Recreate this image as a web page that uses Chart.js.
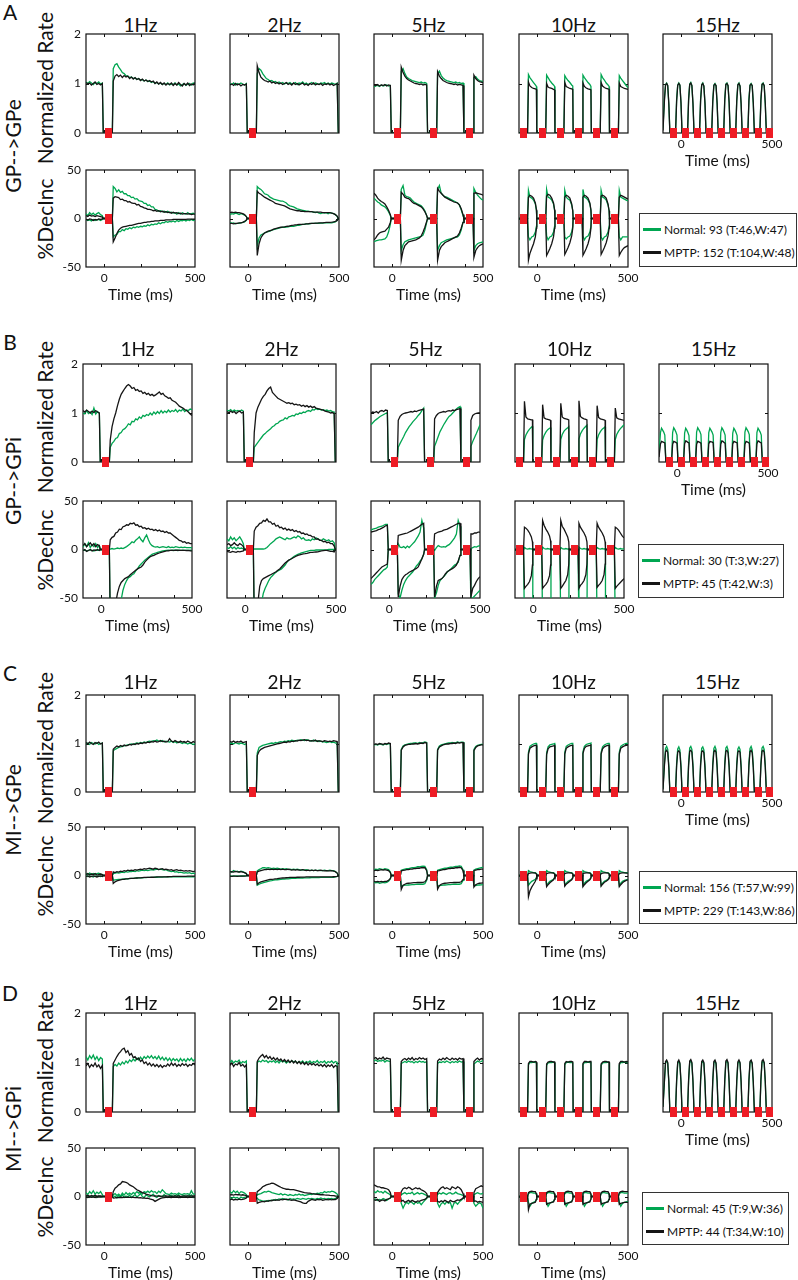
<!DOCTYPE html>
<html>
<head>
<meta charset="utf-8">
<title>Stimulation responses</title>
<script src="https://cdn.jsdelivr.net/npm/chart.js@4.4.1/dist/chart.umd.min.js"></script>
<style>
  html, body { margin: 0; padding: 0; background: #fff; }
  body { position: relative; width: 798px; height: 1280px; overflow: hidden;
         font-family: Lato, "Liberation Sans", Arial, sans-serif; color: #111; }
  canvas { position: absolute; }
  .txt { position: absolute; white-space: nowrap; line-height: 1; transform: translate(-50%, -50%); }
  .txt.vert { transform: translate(-50%, -50%) rotate(-90deg); }
  .legend { position: absolute; box-sizing: border-box; border: 1px solid #333; background: #fff; }
  .legend div { position: absolute; left: 3px; white-space: nowrap; font-size: 12px; line-height: 1; transform: translateY(-50%); }
  .legend span { display: inline-block; width: 18px; height: 3px; vertical-align: middle; margin-right: 3px; position: relative; top: -1px; }
</style>
</head>
<body>
<script>
// ── Time grids (ms) and stimulus times ──────────────────────────────────────
const T1 = [-100,-90,-80,-70,-60,-50,-40,-30,-20,-10,-5,45,
  50,60,70,80,90,100,110,120,130,140,
  150,160,170,180,190,200,210,220,230,240,
  250,260,270,280,290,300,310,320,330,340,
  350,360,370,380,390,400,410,420,430,440,
  450,460,470,480,490,500];
const T2 = [-100,-90,-80,-70,-60,-50,-40,-30,-20,-10,-5,45,
  50,60,70,80,90,100,110,120,130,140,
  150,160,170,180,190,200,210,220,230,240,
  250,260,270,280,290,300,310,320,330,340,
  350,360,370,380,390,400,410,420,430,440,
  450,460,470,480,490,496,500];
const T5 = [-100,-90,-80,-70,-60,-50,-40,-30,-20,-10,-5,45,
  50,60,70,80,90,100,110,120,130,140,150,160,170,180,190,195,245,
  250,260,270,280,290,300,310,320,330,340,350,360,370,380,390,395,445,
  450,460,470,480,490,500];
const T10 = [-100,
  -53,-48,-40,-30,-20,-10,-4,-2,
  47,52,60,70,80,90,96,98,
  147,152,160,170,180,190,196,198,
  247,252,260,270,280,290,296,298,
  347,352,360,370,380,390,396,398,
  447,452,460,470,480,490,500];
const T15 = [-100,-92,-86,-80,-74,-68,-62,
  -31,-25,-19,-13,-7,-1,5,
  35,41,47,53,59,65,71,
  101,107,113,119,125,131,137,
  168,174,180,186,192,198,204,
  234,240,246,252,258,264,270,
  300,306,312,318,324,330,336,
  367,373,379,385,391,397,403,
  433,439,445,451,457,463,469,
  500];

const S1 = [26];
const S5 = [27, 227, 427];
const S10 = [-73, 27, 127, 227, 327, 427];
const S15 = [-41, 24, 91, 157, 224, 290, 356, 423, 488];

const FREQS = ['1Hz', '2Hz', '5Hz', '10Hz', '15Hz'];
const X_LABEL_TICKS = [0, 500];
const X_INNER_TICKS = [0, 200, 400];
const RATE_TICKS = [0, 1, 2];
const DEC_TICKS = [-50, 0, 50];

// ── A: GP-->GPe ─────────────────────────────────────────────────────────────
const A_rate1_k = [1.02,0.99,1.01,0.97,1.00,1.03,0.98,1.00,0.97,1.00, 0,0,
  1.05,1.15,1.18,1.14,1.17,1.12,1.16,1.13,1.15,1.10,
  1.13,1.09,1.12,1.08,1.10,1.06,1.09,1.05,1.07,1.04,
  1.06,1.03,1.05,1.00,1.03,0.99,1.02,0.98,1.01,0.97,
  1.00,0.98,1.01,0.96,1.00,0.97,1.02,0.98,0.95,1.00,
  0.97,1.01,0.96,0.99,0.97,1.02];
const A_rate1_g = [1.03,1.00,1.04,1.01,0.98,1.02,1.00,1.03,0.99,1.01, 0,0,
  1.30,1.38,1.40,1.33,1.28,1.22,1.20,1.16,1.15,1.12,
  1.13,1.10,1.11,1.08,1.10,1.07,1.08,1.05,1.07,1.04,
  1.05,1.02,1.04,1.00,1.02,0.99,1.01,0.98,1.00,0.98,
  1.01,0.97,0.99,0.98,1.01,0.97,0.99,0.95,0.98,1.00,
  0.96,0.99,1.00,0.97,1.01,1.00];
const A_rate2_k = [0.97,0.99,0.96,1.00,0.97,0.99,0.95,0.98,0.97,0.99, 0,0,
  1.36,1.22,1.13,1.09,1.06,1.05,1.03,1.05,1.01,1.03,
  1.00,1.02,0.99,1.01,0.98,1.00,1.02,0.98,1.00,0.97,
  1.01,0.98,1.00,0.97,0.99,1.01,0.97,0.99,0.96,1.00,
  0.98,1.01,0.97,0.99,0.98,1.00,0.96,0.99,0.98,1.00,
  0.97,0.99,0.96,0.98,1.00, 0,0];
const A_rate2_g = [1.00,0.98,1.01,0.97,1.00,0.98,1.01,0.99,0.97,1.00, 0,0,
  1.20,1.30,1.27,1.20,1.15,1.10,1.08,1.05,1.06,1.03,
  1.04,1.01,1.03,1.00,1.02,0.99,1.01,1.00,1.02,0.99,
  1.00,1.02,0.98,1.01,1.00,1.03,0.99,1.01,0.98,1.00,
  1.02,0.99,1.01,1.00,0.98,1.01,1.00,1.02,0.99,1.01,
  0.99,1.01,1.00,0.98,1.01, 0,0];
const A_rate5_k = [0.97,0.96,0.98,0.95,0.97,0.96,0.98,0.95,0.97,0.96, 0,0,
  1.33,1.22,1.15,1.10,1.07,1.05,1.03,1.01,1.00,0.99,0.98,0.99,0.97,0.98,0.97, 0,0,
  1.24,1.15,1.10,1.06,1.04,1.02,1.01,1.00,0.99,0.98,0.99,0.97,0.98,0.97,0.96, 0,0,
  1.17,1.10,1.06,1.04,1.03,1.02];
const A_rate5_g = [0.93,0.95,0.96,0.94,0.97,0.95,0.96,0.97,0.95,0.96, 0,0,
  1.25,1.30,1.20,1.13,1.10,1.08,1.06,1.05,1.04,1.03,1.02,1.03,1.01,1.02,1.00, 0,0,
  1.20,1.25,1.16,1.11,1.08,1.06,1.05,1.04,1.03,1.02,1.03,1.01,1.02,1.00,1.01, 0,0,
  1.12,1.14,1.09,1.06,1.05,1.04];
const A_rate10_k = [0,
  0,1.03,0.95,0.92,0.90,0.89,0.88,0,
  0,1.00,0.93,0.91,0.90,0.88,0.87,0,
  0,1.02,0.94,0.92,0.90,0.89,0.88,0,
  0,1.01,0.94,0.91,0.89,0.88,0.87,0,
  0,1.02,0.95,0.92,0.90,0.89,0.88,0,
  0,1.01,0.94,0.92,0.90,0.89,0.88];
const A_rate10_g = [0,
  0,1.18,1.12,1.07,1.02,0.97,0.94,0,
  0,1.17,1.12,1.06,1.01,0.97,0.94,0,
  0,1.16,1.11,1.06,1.02,0.97,0.95,0,
  0,1.17,1.12,1.07,1.02,0.98,0.94,0,
  0,1.18,1.12,1.07,1.01,0.97,0.94,0,
  0,1.16,1.11,1.06,1.01,0.96,0.92];
const A_rate15_k = [0.05,0.66,0.97,1.00,0.96,0.60,0,
  0,0.64,0.96,1.00,0.97,0.62,0,
  0,0.66,0.98,1.01,0.96,0.60,0,
  0,0.65,0.97,1.00,0.95,0.61,0,
  0,0.63,0.96,0.99,0.96,0.60,0,
  0,0.66,0.98,1.00,0.96,0.62,0,
  0,0.64,0.97,1.00,0.95,0.60,0,
  0,0.65,0.96,0.99,0.96,0.61,0,
  0,0.66,0.98,1.00,0.96,0.60,0,
  0];
const A_rate15_g = [0.10,0.72,0.98,1.01,0.95,0.58,0,
  0,0.68,0.97,1.01,0.96,0.60,0,
  0,0.70,0.99,1.02,0.95,0.58,0,
  0,0.69,0.98,1.01,0.94,0.59,0,
  0,0.67,0.97,1.00,0.95,0.58,0,
  0,0.70,0.99,1.01,0.95,0.60,0,
  0,0.68,0.98,1.01,0.94,0.58,0,
  0,0.69,0.97,1.00,0.95,0.59,0,
  0,0.70,0.99,1.01,0.95,0.58,0,
  0];

const A_dec1_ku = [3,2,3.5,2.5,3,2,3,2.5,2,1.5, 0,0,
  21,22.5,22,21.5,19.5,20,18.5,18.5,17,17.5,
  16,15.5,15.5,14,14.5,12.5,12,11,10.5,9.5,
  9.5,9,8,8.5,7.5,8,7,7.5,6.5,7,
  6,6.5,5.5,6.5,5.5,6,5,5.5,4.5,5,
  5,4.5,5,4,4.5,4.5];
const A_dec1_kl = [-1,-1.5,-0.5,-1,-2,-1,-1.5,-0.5,-1,-0.5, 0,0,
  -24,-20,-15.5,-12,-10,-9,-8.5,-8,-7.5,-7,
  -7,-6.5,-6,-5.5,-5,-5,-4.5,-4,-4,-3.5,
  -3.5,-3,-3,-2.5,-2.5,-2.5,-2,-2,-2,-1.5,
  -1.5,-1.5,-1.5,-1,-1,-1,-1,-1,-0.8,-0.8,
  -0.8,-0.7,-0.7,-0.7,-0.7,-0.7];
const A_dec1_gu = [5,3,6,4,5.5,3.5,5,6,4,3, 0,0,
  33,31,27.5,29.5,27,28,25.5,25.5,23.5,23.5,
  21.5,22,20,20.5,18.5,18,17.5,15.5,15.5,13.5,
  14,12,12,9.5,9,7.5,8,7,7.5,6.5,
  7.5,6,6.5,5.5,6,4.5,6,4.5,6,5,
  4.5,6,4.5,5,5.5,4.5];
const A_dec1_gl = [-1,-2,-1.5,-2.5,-1,-2,-1.5,-1,-2,-1, 0,0,
  -19,-17,-16.5,-13.5,-13.5,-11.5,-12.5,-10.5,-11,-9.5,
  -10.5,-9,-9.5,-8.5,-9,-8,-8.5,-7.5,-8,-6.5,
  -7.5,-6,-6.5,-5.5,-6,-4.5,-5.5,-4,-4.5,-3,
  -4,-3,-3.5,-2.5,-3.5,-2,-3,-2,-2.5,-1.5,
  -2.5,-1.5,-2,-1,-2,-1.5];
const A_dec2_ku = [6,6.5,6,6.5,6,6,5.5,5,4,2, 0,0,
  28,26,25,23.5,22,21,20,19,18,17,
  15.5,15,14.5,14,13.5,13,12,11,10,9.5,
  9,8.5,8,8,7.5,7.5,7,7,7,7,
  7,6.5,6.5,6.5,6.5,6.5,6,6,6,6,
  6,5.5,5,4,2.5, 0,0];
const A_dec2_kl = [-5,-5,-5.5,-5,-5,-4.5,-4.5,-4,-3,-1.5, 0,0,
  -38,-26,-20,-17,-15,-14,-13,-12.5,-12,-11,
  -10.5,-10,-9.5,-9,-8.8,-8.6,-8.2,-8,-7.5,-7,
  -6.8,-6.5,-6.3,-6,-6,-6,-5.8,-5.5,-5.5,-5,
  -5,-5,-4.8,-4.8,-4.5,-4.5,-4.5,-4.2,-4,-4,
  -4,-3.8,-3.5,-3,-2, 0,0];
const A_dec2_gu = [4,5,4.5,5.5,5,4,5,4.5,3.5,2, 0,0,
  33,31,30,28,25.5,25,24,22,21,20,
  19.5,19,18.5,18,18,17,16,14,13,12.5,
  12,11,10,9.5,9,8.5,8,7.5,7.5,7,
  7,6.5,6,6.5,5.5,5,6,5.5,6,5,
  6,5.5,5,4,2, 0,0];
const A_dec2_gl = [-4,-5,-4.5,-5.5,-5,-5,-4.5,-4,-3.5,-2, 0,0,
  -28,-20,-17,-16,-15,-14,-13.5,-13,-12,-11.5,
  -11,-10.5,-10,-9.5,-9,-9,-8.8,-8.5,-8.2,-8,
  -8,-7.5,-7,-7,-6.5,-6,-6,-5.5,-5.5,-5.5,
  -5,-5,-5,-5,-5,-4.8,-4.8,-4.6,-4.5,-4.5,
  -4.5,-4.5,-4,-3.5,-2, 0,0];
const A_dec5_ku = [26,24,21,19,17.5,16.5,15,12,8.6,4, 0,0,
  27,25,22,21,20.5,19,17,15.5,15,14,13,12,10,7,3, 0,0,
  31,28,26,24,22,21,20,19,18,17,16.5,16,14,10,4, 0,0,
  26,26.5,26,25.5,25,24];
const A_dec5_kl = [-22,-20,-17,-15,-14,-13.5,-13,-11,-9,-4, 0,0,
  -43,-33,-28,-26,-24,-23.5,-23,-22.5,-22,-21,-20,-18,-14,-9,-3, 0,0,
  -43,-33,-29,-27,-25,-24,-23,-22,-21,-20,-19,-18,-15,-10,-4, 0,0,
  -40,-33,-30,-28,-27,-26];
const A_dec5_gu = [21,19,17,16,14,13,12,10,7,3, 0,0,
  30,34,24,22.5,22,21,19,17,16,15,14,13,11,8,3, 0,0,
  30,34,26,24,22.5,22,21,20,19,18,17,16,14,9,3, 0,0,
  31,27,24,22,20,19];
const A_dec5_gl = [-24,-23,-22.5,-22,-22,-21.5,-21,-19,-14,-6, 0,0,
  -33,-27,-24,-23,-22,-21.5,-21,-20.5,-20,-19.5,-19,-18.5,-17,-12,-4, 0,0,
  -33,-28,-25,-24,-23,-22,-21.5,-21,-20.5,-20,-19.5,-19,-17,-12,-4, 0,0,
  -33,-28,-26,-25,-24.5,-24];
const A_dec10_ku = [0,
  0,22,24,23,21,16,9,0,
  0,23,25,24,21,16,9,0,
  0,22,24,23,21,15,8,0,
  0,22,24,23,21,16,9,0,
  0,23,24,23,21,15,8,0,
  0,22,24,23,22,21,20];
const A_dec10_kl = [0,
  0,-43,-36,-31,-26,-19,-10,0,
  0,-38,-35,-31,-26,-19,-10,0,
  0,-37,-34,-30,-25,-18,-10,0,
  0,-38,-35,-31,-26,-19,-10,0,
  0,-37,-34,-30,-25,-18,-10,0,
  0,-38,-35,-32,-30,-29,-28];
const A_dec10_gu = [0,
  0,29,22,21,19,15,8,0,
  0,30,22,21,19,15,8,0,
  0,29,22,20,19,14,8,0,
  0,30,22,21,19,15,8,0,
  0,29,22,21,19,14,8,0,
  0,29,22,21,20,19,18];
const A_dec10_gl = [0,
  0,-19,-22,-19,-18,-14,-8,0,
  0,-18,-22,-19,-18,-14,-8,0,
  0,-19,-21,-19,-18,-14,-8,0,
  0,-18,-22,-19,-18,-14,-8,0,
  0,-19,-22,-19,-18,-14,-8,0,
  0,-19,-22,-19,-19,-19,-19];

// ── B: GP-->GPi ─────────────────────────────────────────────────────────────
const B_rate1_k = [1.05,1.02,1.06,1.03,1.00,1.04,1.01,1.05,1.02,1.00, 0,0,
  0.45,0.72,0.88,1.00,1.15,1.28,1.38,1.44,1.50,1.55,
  1.58,1.55,1.50,1.52,1.46,1.48,1.44,1.45,1.40,1.42,
  1.38,1.40,1.36,1.38,1.35,1.37,1.40,1.43,1.38,1.40,
  1.35,1.33,1.30,1.31,1.26,1.24,1.22,1.18,1.14,1.12,
  1.10,1.07,1.05,1.02,0.98,0.95];
const B_rate1_g = [1.00,0.98,1.05,0.99,1.02,0.97,1.10,0.98,1.03,0.99, 0,0,
  0.30,0.38,0.42,0.48,0.50,0.58,0.60,0.66,0.68,0.72,
  0.78,0.76,0.83,0.82,0.88,0.86,0.92,0.89,0.95,0.93,
  0.97,0.95,1.00,0.96,1.02,0.98,1.03,0.99,1.05,1.00,
  1.04,1.01,1.06,1.02,1.05,1.03,1.07,1.02,1.06,1.04,
  1.08,1.03,1.06,1.05,1.08,1.07];
const B_rate2_k = [1.03,1.00,1.04,1.01,1.03,0.99,1.02,1.04,1.00,1.02, 0,0,
  0.60,1.00,1.12,1.20,1.28,1.34,1.38,1.45,1.50,1.53,
  1.42,1.38,1.34,1.30,1.28,1.26,1.24,1.22,1.20,1.21,
  1.19,1.20,1.17,1.18,1.16,1.17,1.14,1.16,1.13,1.15,
  1.12,1.14,1.11,1.13,1.10,1.09,1.08,1.07,1.06,1.04,
  1.03,1.02,1.00,1.01,0.99, 0,0];
const B_rate2_g = [1.06,1.04,1.07,1.03,1.06,1.04,1.05,1.03,1.06,1.04, 0,0,
  0.30,0.35,0.40,0.45,0.50,0.55,0.58,0.62,0.65,0.68,
  0.72,0.74,0.78,0.79,0.83,0.85,0.86,0.90,0.88,0.92,
  0.93,0.95,0.94,0.98,0.97,1.00,0.99,1.02,1.01,1.04,
  1.05,1.03,1.07,1.06,1.09,1.07,1.08,1.06,1.07,1.05,
  1.06,1.04,1.05,1.03,1.02, 0,0];
const B_rate5_k = [1.00,1.02,1.01,1.03,1.00,1.04,1.05,1.03,1.06,1.05, 0,0,
  0.85,0.93,0.97,0.99,1.00,1.01,1.02,1.03,1.02,1.04,1.03,1.05,1.06,1.07,1.08, 0,0,
  0.88,0.95,0.99,1.01,1.02,1.03,1.02,1.04,1.05,1.04,1.06,1.05,1.07,1.08,1.09, 0,0,
  0.85,0.95,0.98,0.99,1.00,1.00];
const B_rate5_g = [0.76,0.80,0.84,0.87,0.90,0.93,0.95,0.97,0.99,1.01, 0,0,
  0.30,0.38,0.45,0.52,0.60,0.66,0.72,0.77,0.82,0.86,0.90,0.95,0.99,1.05,1.10, 0,0,
  0.32,0.42,0.52,0.62,0.69,0.76,0.82,0.88,0.93,0.96,1.00,1.04,1.08,1.11,1.13, 0,0,
  0.32,0.42,0.50,0.58,0.67,0.76];
const B_rate10_k = [0,
  0,1.24,0.92,0.88,0.87,0.86,0.86,0,
  0,1.17,0.90,0.88,0.87,0.86,0.85,0,
  0,1.20,0.92,0.89,0.88,0.87,0.86,0,
  0,1.25,0.93,0.90,0.88,0.87,0.86,0,
  0,1.15,0.91,0.88,0.87,0.86,0.85,0,
  0,1.10,0.90,0.88,0.87,0.86,0.85];
const B_rate10_g = [0,
  0,0.46,0.55,0.62,0.67,0.71,0.73,0,
  0,0.45,0.54,0.61,0.66,0.69,0.70,0,
  0,0.46,0.56,0.63,0.67,0.70,0.72,0,
  0,0.47,0.57,0.64,0.69,0.73,0.75,0,
  0,0.46,0.55,0.62,0.67,0.70,0.72,0,
  0,0.46,0.56,0.63,0.68,0.72,0.76];
const B_rate15_k = [0.10,0.37,0.42,0.41,0.40,0.39,0,
  0,0.36,0.42,0.41,0.40,0.38,0,
  0,0.37,0.43,0.42,0.40,0.39,0,
  0,0.36,0.42,0.41,0.40,0.38,0,
  0,0.37,0.42,0.41,0.41,0.39,0,
  0,0.36,0.43,0.42,0.40,0.38,0,
  0,0.37,0.42,0.41,0.40,0.39,0,
  0,0.36,0.42,0.41,0.40,0.38,0,
  0,0.37,0.43,0.42,0.40,0.39,0,
  0];
const B_rate15_g = [0.15,0.60,0.69,0.65,0.61,0.55,0,
  0,0.60,0.70,0.66,0.61,0.55,0,
  0,0.59,0.69,0.65,0.60,0.54,0,
  0,0.61,0.70,0.66,0.62,0.56,0,
  0,0.60,0.69,0.65,0.61,0.55,0,
  0,0.60,0.70,0.66,0.61,0.55,0,
  0,0.59,0.69,0.65,0.60,0.54,0,
  0,0.61,0.70,0.66,0.62,0.56,0,
  0,0.60,0.69,0.65,0.61,0.55,0,
  0];

const B_dec1_ku = [4,6,3,5,7,4,6,3,5,4, 0,0,
  10,12.5,13.5,17,18,21,20.5,23.5,24,25.5,
  25,27,26.5,27.5,25,25.5,23.5,24,22,22.5,
  21,22,20.5,21,19.5,20.5,19,20,18.5,19,
  17.5,18.5,17,17,15.5,14,12.5,11,9.5,9,
  7.5,8,6.5,7,6,6];
const B_dec1_kl = [-1,0,-2,-1,0,-1.5,-0.5,-1,0,-1, 0,0,
  -70,-70,-70,-55,-45,-38,-34,-32,-30,-29,
  -28,-26,-24.5,-23,-21.5,-20,-19,-18,-16,-13,
  -11,-9,-7.5,-6.5,-6,-5,-4.3,-3.6,-3,-2.5,
  -2,-1.5,-1.5,-1,-1,-1,-1,-0.8,-1,-1,
  -1,-1,-1.2,-1,-1.5,-1.5];
const B_dec1_gu = [2.5,6,3,7,2,5,3,6,2,4, 0,0,
  0.5,1,0.5,1,1.5,1,1.5,1,2,3,
  4.5,6,8,7,9.5,11,13,10,8,12,
  15,10,6,4,3,2.5,3,2,2.5,3,
  2.5,2,3,2,2.5,2,3,2.5,2,2.5,
  2,2.5,2,2,2,2];
const B_dec1_gl = [-1,-0.5,-1.5,-1,-0.5,-1,-1.5,-0.5,-1,-1, 0,0,
  -80,-80,-80,-80,-80,-65,-52,-42,-36,-32,
  -29,-28,-26,-25,-22,-20,-17,-15,-13,-11,
  -9.5,-8,-6.5,-5,-4.3,-3.6,-3,-2.5,-2,-1.5,
  -1.2,-1,-0.8,-1,-0.8,-1,-0.5,-1,-0.8,-1,
  -0.8,-1,-0.8,-1,-0.8,-1];
const B_dec2_ku = [5,6,4,5,7,5,4,6,5,3, 0,0,
  19,23,24.5,27,27.5,30,29,31.5,28.5,28.5,
  26,27,24,25,22.5,23,21,22,20,21,
  19.5,20.5,18.5,19.5,18,18.5,16.5,17,15.5,16,
  14.5,14.5,13,13,10.5,11,9.5,9.5,8,8.5,
  7,7.5,6,6,3.5, 0,0];
const B_dec2_kl = [-2,-2.5,-3,-2,-2.5,-3,-2,-2.5,-2,-1.5, 0,0,
  -70,-70,-55,-38,-32,-30,-29,-28,-27,-26,
  -25,-24,-23,-21.5,-20,-18,-16,-14,-12.5,-11,
  -10,-9,-8,-7,-6,-5.5,-5,-4.5,-4.3,-4,
  -3.5,-3,-3,-2.8,-2.6,-2.5,-2,-1.5,-1.2,-1,
  -1,-1.5,-2,-2,-2.5, 0,0];
const B_dec2_gu = [11,9,13,10,12,9,11,13,10,6, 0,0,
  0.5,0.5,0.5,0.5,0.5,0.5,1,2,4,6,
  7.5,9,11,12,13,12,11,10,12,11,
  11,12,13,12,14,13,11,12,10,9.5,
  10,9,11,10,12,11,10,9,11,10,
  9,10,8,9,7, 0,0];
const B_dec2_gl = [2,1,3,1,2.5,0.5,2,1,1.5,0.5, 0,0,
  -80,-80,-80,-70,-55,-45,-40,-36,-32,-29,
  -27,-25,-23.5,-22,-21,-20,-18,-16,-13,-11,
  -10,-8.5,-7,-6,-5,-4.3,-3.5,-3,-2.5,-2,
  -1.5,-1,-1,-0.8,-0.5,-0.5,-0.5,-0.3,-0.3,-0.3,
  -0.3,0,0,0,0, 0,0];
const B_dec5_ku = [18,18.5,19,19.5,20.5,21,22,23,24.5,25, 0,0,
  14.5,15,15.5,16,16.5,17,18,19,20,21,22,23,24.5,26,27, 0,0,
  16,17,18,18.5,19,20,20.5,21,22,23,24,25,26,27,27, 0,0,
  16,16,17,17,18,18];
const B_dec5_kl = [-30,-28,-26,-24,-22,-20,-18,-17,-16,-15, 0,0,
  -49,-38,-31,-28,-26,-25,-23.5,-22.5,-21.6,-20.5,-19.5,-18,-14,-9.6,-5, 0,0,
  -49,-38,-32,-31,-30,-28,-25,-23,-21.6,-20.5,-19.5,-18,-16,-12,-6, 0,0,
  -49,-40,-37,-33,-30,-28];
const B_dec5_gu = [20,21,21.5,22,23,23.5,24,25,26,26, 0,0,
  6,2.5,2,3,1.5,3.5,2,4,6,8,11,14,18,30,22, 0,0,
  -1,2,4,3,2.5,3,2.5,4,5,7,9.5,12,16,30,24, 0,0,
  1,2,3,2.5,3.5,4];
const B_dec5_gl = [-36,-34,-31,-29,-27,-25,-23,-21,-20,-18, 0,0,
  -46,-50,-42,-36,-32,-29,-27,-25,-23,-20,-17,-15,-12,-9.6,-5, 0,0,
  -50,-45,-37,-32,-30,-28,-26,-23,-21.6,-20,-18,-16,-15,-13,-6, 0,0,
  -60,-50,-48,-46,-44,-42];
const B_dec10_ku = [0,
  0,23,22,20,17,13,8,0,
  0,30,25,21,18,14,9,0,
  0,30,24,21,17,13,8,0,
  0,27,23,20,17,13,8,0,
  0,27,23,20,17,13,8,0,
  0,23,22,20,17,14,12];
const B_dec10_kl = [0,
  0,-40,-38,-36,-33,-27,-16,0,
  0,-40,-38,-36,-33,-27,-16,0,
  0,-40,-38,-35,-32,-26,-15,0,
  0,-40,-37,-35,-32,-26,-15,0,
  0,-39,-37,-35,-32,-26,-15,0,
  0,-40,-38,-36,-34,-32,-30];
const B_dec10_gu = [0,
  0,2,1,0.5,1,0.5,1,0,
  0,2.5,1,0.5,1,0.5,1,0,
  0,2,1,0.5,1,0.5,1,0,
  0,2.5,1,0.5,1,0.5,1,0,
  0,2,1,0.5,1,0.5,1,0,
  0,2,1,0.5,1,0.5,1];
const B_dec10_gl = [0,
  0,-80,-80,-80,-80,-80,-80,0,
  0,-80,-80,-80,-80,-80,-80,0,
  0,-80,-80,-80,-80,-80,-80,0,
  0,-80,-80,-80,-80,-80,-80,0,
  0,-80,-80,-80,-80,-80,-80,0,
  0,-80,-80,-80,-80,-80,-80];

// ── C: MI-->GPe ─────────────────────────────────────────────────────────────
const C_rate1_k = [1.02,0.99,1.03,1.00,0.98,1.02,1.00,1.03,0.99,1.01, 0,0,
  0.88,0.92,0.95,0.93,0.96,0.94,0.97,0.95,0.96,0.98,
  0.97,0.99,0.98,1.00,0.99,1.01,1.00,1.02,1.01,1.03,
  1.02,1.04,1.03,1.05,1.03,1.04,1.06,1.04,1.05,1.03,
  1.04,1.10,1.05,1.03,1.06,1.04,1.02,1.05,1.03,1.04,
  1.02,1.05,1.03,1.01,1.04,1.02];
const C_rate1_g = [0.99,1.01,0.98,1.02,1.00,0.99,1.02,0.98,1.00,1.01, 0,0,
  0.85,0.88,0.90,0.92,0.93,0.94,0.95,0.96,0.97,0.98,
  0.99,0.98,1.00,1.01,1.00,1.02,1.01,1.03,1.02,1.04,
  1.05,1.04,1.06,1.05,1.07,1.05,1.04,1.06,1.03,1.05,
  1.04,1.03,1.05,1.02,1.04,1.01,1.03,1.02,1.00,1.02,
  1.01,0.99,1.01,1.00,0.98,1.00];
const C_rate2_k = [1.04,1.03,1.05,1.02,1.04,1.03,1.05,1.02,1.03,1.04, 0,0,
  0.75,0.84,0.88,0.90,0.92,0.93,0.94,0.95,0.96,0.97,
  0.98,0.99,1.00,1.01,1.02,1.03,1.02,1.04,1.03,1.05,
  1.04,1.06,1.05,1.07,1.06,1.07,1.08,1.06,1.07,1.05,
  1.06,1.05,1.07,1.04,1.06,1.05,1.04,1.06,1.05,1.04,
  1.05,1.04,1.06,1.05,1.04, 0,0];
const C_rate2_g = [1.00,1.01,0.99,1.02,1.00,0.99,1.01,1.00,0.98,1.00, 0,0,
  0.80,0.92,0.94,0.96,0.97,0.98,0.99,1.00,1.01,1.00,
  1.02,1.01,1.03,1.04,1.03,1.05,1.04,1.06,1.05,1.07,
  1.06,1.05,1.07,1.06,1.08,1.07,1.06,1.08,1.07,1.06,
  1.05,1.07,1.05,1.06,1.04,1.05,1.03,1.04,1.02,1.03,
  1.04,1.02,1.03,1.01,1.02, 0,0];
const C_rate5_k = [0.98,0.99,0.98,1.00,0.99,0.98,1.00,0.99,1.01,1.00, 0,0,
  0.86,0.93,0.96,0.97,0.98,0.98,0.99,0.99,1.00,0.99,1.00,1.01,1.00,1.02,1.01, 0,0,
  0.86,0.93,0.95,0.97,0.98,0.99,0.99,1.00,1.00,1.01,1.00,1.02,1.01,1.02,1.02, 0,0,
  0.85,0.92,0.95,0.96,0.97,0.97];
const C_rate5_g = [0.97,0.98,0.97,0.99,0.98,0.97,0.99,0.98,1.00,0.99, 0,0,
  0.88,0.95,0.97,0.98,0.99,1.00,1.00,1.01,1.01,1.00,1.02,1.01,1.02,1.03,1.02, 0,0,
  0.88,0.95,0.97,0.98,0.99,1.00,1.01,1.01,1.02,1.01,1.02,1.03,1.02,1.03,1.03, 0,0,
  0.88,0.94,0.96,0.97,0.98,0.98];
const C_rate10_k = [0,
  0,0.78,0.90,0.93,0.95,0.96,0.96,0,
  0,0.77,0.89,0.93,0.94,0.95,0.96,0,
  0,0.78,0.90,0.93,0.95,0.96,0.96,0,
  0,0.79,0.90,0.94,0.95,0.96,0.97,0,
  0,0.78,0.89,0.93,0.95,0.96,0.96,0,
  0,0.78,0.90,0.93,0.95,0.96,0.97];
const C_rate10_g = [0,
  0,0.82,0.94,0.97,0.99,1.00,1.00,0,
  0,0.81,0.93,0.97,0.98,0.99,1.00,0,
  0,0.82,0.94,0.97,0.99,1.00,1.00,0,
  0,0.83,0.94,0.98,0.99,1.00,1.01,0,
  0,0.82,0.93,0.97,0.99,1.00,1.00,0,
  0,0.82,0.94,0.97,0.99,1.00,1.00];
const C_rate15_k = [0.05,0.55,0.83,0.86,0.82,0.50,0,
  0,0.54,0.82,0.85,0.81,0.50,0,
  0,0.55,0.84,0.86,0.82,0.51,0,
  0,0.55,0.83,0.85,0.81,0.50,0,
  0,0.54,0.83,0.86,0.82,0.50,0,
  0,0.55,0.84,0.86,0.81,0.51,0,
  0,0.54,0.82,0.85,0.82,0.50,0,
  0,0.55,0.83,0.86,0.81,0.50,0,
  0,0.55,0.84,0.86,0.82,0.51,0,
  0];
const C_rate15_g = [0.08,0.60,0.90,0.94,0.88,0.55,0,
  0,0.59,0.89,0.93,0.87,0.55,0,
  0,0.60,0.91,0.94,0.88,0.56,0,
  0,0.60,0.90,0.93,0.87,0.55,0,
  0,0.59,0.90,0.94,0.88,0.55,0,
  0,0.60,0.91,0.94,0.87,0.56,0,
  0,0.59,0.89,0.93,0.88,0.55,0,
  0,0.60,0.90,0.94,0.87,0.55,0,
  0,0.60,0.91,0.94,0.88,0.56,0,
  0];

const C_dec1_ku = [1,2,0.5,1.5,1,2,0.5,1,1.5,1, 0,0,
  3.8,3,4,3.5,4.5,4,5,4.5,5.5,5,
  5.5,5,6,5.5,6,6.5,6,7,6.5,7,
  7.5,7,6.5,7.5,7,6,6.5,7,6,6.5,
  6,5.5,6,5,5.5,6,5,5.5,5,4.5,
  5,4.5,5,4.5,4,4.5];
const C_dec1_kl = [-1,-0.5,-1.5,-1,-0.5,-1,-1.5,-1,-0.5,-1, 0,0,
  -8.2,-6.5,-5.5,-5,-4.5,-4,-4,-3.5,-3.5,-3,
  -3,-3,-2.8,-2.6,-2.5,-2.4,-2.2,-2,-2,-2,
  -2,-1.8,-1.8,-1.6,-1.5,-1.5,-1.5,-1.4,-1.4,-1.4,
  -1.3,-1.2,-1.2,-1,-1,-1,-1,-0.8,-0.8,-0.8,
  -0.8,-0.7,-0.7,-0.7,-0.7,-0.7];
const C_dec1_gu = [2,1,2.5,1.5,2,1,2,2.5,1.5,1, 0,0,
  2,2.5,3,2.5,3,3.5,3,4,3.5,4,
  4,4.5,4,5,4.5,5,5.5,5,5.5,5,
  5.5,6,5.5,6,6.5,6,6.5,6,5.5,6,
  5,4.5,4,4.5,3.5,4,3,3.5,3,2.5,
  3,2.5,3,2,2.5,2];
const C_dec1_gl = [-0.5,-1,-0.5,-1,-1.5,-0.5,-1,-0.5,-1,-0.5, 0,0,
  -4.8,-4.5,-4.2,-4,-4,-3.8,-3.6,-3.5,-3.4,-3.2,
  -3,-3,-2.8,-2.6,-2.5,-2.4,-2.3,-2.2,-2.1,-2,
  -2,-2,-1.9,-1.8,-1.8,-1.7,-1.6,-1.6,-1.5,-1.5,
  -1.5,-1.4,-1.4,-1.4,-1.4,-1.4,-1.4,-1.4,-1.4,-1.4,
  -1.4,-1.4,-1.4,-1.4,-1.4,-1.4];
const C_dec2_ku = [3.8,4,3.5,4.2,3.8,3.6,4,3.5,3,2, 0,0,
  3.8,4.5,5,5.5,6,6,6.5,6,6.5,6,
  6.5,6,6.5,6,6.5,6,6,6.5,6,5.5,
  6,5.5,6,5.5,5.5,6,5.5,5,5.5,5,
  5.5,5,5.5,5,5,5.5,5,4.8,5,4.8,
  4.8,5,4.5,4,2.5, 0,0];
const C_dec2_kl = [-0.7,-0.8,-0.6,-0.7,-0.8,-0.7,-0.6,-0.7,-0.6,-0.4, 0,0,
  -9,-7.5,-6.5,-6,-5.5,-5,-4.5,-4,-4,-3.8,
  -3.5,-3.3,-3,-2.8,-2.6,-2.5,-2.3,-2.2,-2,-2,
  -2,-1.9,-1.8,-1.8,-1.7,-1.6,-1.6,-1.5,-1.5,-1.5,
  -1.5,-1.4,-1.4,-1.4,-1.4,-1.4,-1.4,-1.4,-1.4,-1.4,
  -1.4,-1.4,-1.3,-1.2,-0.8, 0,0];
const C_dec2_gu = [4.5,3.5,5,4,4.5,3.5,4.5,4,3,2, 0,0,
  4.8,6,7,8,8,7.5,8,7.5,7,7.5,
  7,7.5,7,6.5,7,6.5,7,6,6.5,6,
  6.5,6,6.5,6,5.5,6,5.5,6,5.5,5,
  5.5,5,5.5,5,5.5,5,5,5.5,5,5,
  5.5,5,5,4,2.5, 0,0];
const C_dec2_gl = [-0.5,-0.6,-0.5,-0.7,-0.5,-0.6,-0.5,-0.5,-0.4,-0.3, 0,0,
  -10,-9,-8.2,-7.5,-7,-6.5,-6,-5.5,-5.2,-4.8,
  -4.6,-4.4,-4.2,-4,-3.8,-3.6,-3.5,-3.4,-3.2,-3,
  -3,-3,-2.8,-2.8,-2.6,-2.6,-2.5,-2.4,-2.4,-2.3,
  -2.2,-2.2,-2.2,-2.1,-2.1,-2,-2,-2,-2,-2,
  -2,-2,-1.8,-1.5,-1, 0,0];
const C_dec5_ku = [5,5.5,5,5.5,6,5.5,6,5.5,5,3, 0,0,
  4.8,5.2,5.5,6,6,6.5,6.5,7,7,7.5,7.5,8,8,8,5, 0,0,
  4.8,5,5.5,6,6,6.5,7,7,7.5,7.5,8,8,8.5,8,5, 0,0,
  5,5.5,6,6,6.5,6.5];
const C_dec5_kl = [-6,-6.5,-6,-6.5,-6,-6.5,-6,-6,-5,-3, 0,0,
  -14.4,-10,-9,-8.2,-8,-7.8,-7.5,-7.4,-7.3,-7.2,-7.2,-7.2,-7,-6.5,-4, 0,0,
  -14,-10.5,-9,-8.5,-8,-7.8,-7.5,-7.4,-7.3,-7.2,-7.2,-7,-7,-6.5,-4, 0,0,
  -12,-9.5,-8.5,-8,-7.8,-7.5];
const C_dec5_gu = [6,6.5,6,7,6.5,6,7,6.5,6,3.5, 0,0,
  5.5,6,6.5,7,7,7.5,8,8,8.5,9,9,9.5,9.6,9.5,6, 0,0,
  5.5,6,6.5,7,7.5,7.5,8,8.5,8.5,9,9.5,9.5,10,9.5,6, 0,0,
  5.5,6.5,7,7.5,8,8.5];
const C_dec5_gl = [-7,-7.5,-7,-8,-7.5,-7,-7.5,-7,-6,-3.5, 0,0,
  -11,-10.5,-10,-10,-9.8,-9.6,-9.5,-9.4,-9.2,-9,-9,-9,-9,-8.5,-5, 0,0,
  -11,-10.5,-10.2,-10,-9.8,-9.6,-9.5,-9.4,-9.2,-9,-9,-9,-9,-8.5,-5, 0,0,
  -10,-10.5,-10,-9.8,-9.6,-9.5];
const C_dec10_ku = [0,
  0,2,2.5,2.7,2.7,2.5,1.5,0,
  0,2,2.5,2.7,2.7,2.5,1.5,0,
  0,2,2.5,2.7,2.7,2.5,1.5,0,
  0,2,2.5,2.7,2.7,2.5,1.5,0,
  0,2,2.5,2.7,2.7,2.5,1.5,0,
  0,2,2.5,2.7,2.7,2.5,2.5];
const C_dec10_kl = [0,
  0,-22,-16,-12,-9,-6,-3,0,
  0,-11.6,-9.5,-7.5,-6,-4.5,-2.5,0,
  0,-11,-9,-7.5,-6,-4.5,-2.5,0,
  0,-11.6,-9.5,-7.5,-6,-4.5,-2.5,0,
  0,-11,-9,-7,-6,-4.5,-2.5,0,
  0,-11.6,-9.5,-7.5,-6,-5,-4.5];
const C_dec10_gu = [0,
  0,5,4,3.5,3,3,2,0,
  0,5,4,3.5,3,3,2,0,
  0,5,4,3.5,3,3,2,0,
  0,5,4,3.5,3,3,2,0,
  0,5,4,3.5,3,3,2,0,
  0,5,4,3.5,3,3,3];
const C_dec10_gl = [0,
  0,-10,-8,-6,-5,-4,-2,0,
  0,-10,-8,-6,-5,-4,-2,0,
  0,-10,-8,-6,-5,-4,-2,0,
  0,-10,-8,-6,-5,-4,-2,0,
  0,-10,-8,-6,-5,-4,-2,0,
  0,-10,-8,-6,-5,-4.5,-4];

// ── D: MI-->GPi ─────────────────────────────────────────────────────────────
const D_rate1_k = [0.93,0.98,0.90,0.96,0.92,0.99,0.91,0.95,0.88,0.94, 0,0,
  0.98,1.05,1.12,1.18,1.22,1.27,1.29,1.20,1.24,1.15,
  1.18,1.10,1.12,1.06,1.09,1.02,1.05,0.98,1.01,0.95,
  0.99,0.93,0.97,0.92,0.96,0.91,0.95,0.90,0.94,0.92,
  0.97,0.93,0.99,0.94,0.98,0.92,0.96,0.93,0.98,0.94,
  0.97,0.92,0.96,0.94,0.98,0.95];
const D_rate1_g = [1.12,1.05,1.14,1.08,1.15,1.06,1.12,1.04,1.10,1.07, 0,0,
  0.92,0.96,0.93,0.99,0.95,1.01,0.97,1.03,0.99,1.05,
  1.02,1.07,1.03,1.09,1.05,1.11,1.06,1.12,1.08,1.13,
  1.09,1.14,1.08,1.12,1.07,1.13,1.06,1.11,1.05,1.10,
  1.04,1.09,1.03,1.08,1.04,1.07,1.02,1.08,1.03,1.07,
  1.02,1.08,1.04,1.09,1.03,1.07];
const D_rate2_k = [0.94,0.99,0.92,0.97,0.95,1.00,0.93,0.96,0.91,0.95, 0,0,
  1.02,1.09,1.13,1.16,1.10,1.14,1.08,1.12,1.06,1.10,
  1.05,1.09,1.04,1.07,1.02,1.06,1.01,1.05,1.00,1.04,
  0.99,1.03,0.98,1.02,0.97,1.01,0.96,1.00,0.95,0.99,
  0.95,0.98,0.94,0.97,0.93,0.96,0.92,0.96,0.91,0.95,
  0.92,0.96,0.90,0.94,0.92, 0,0];
const D_rate2_g = [1.00,1.04,0.99,1.03,1.01,1.05,0.98,1.02,1.00,1.03, 0,0,
  1.00,1.03,1.01,1.05,1.02,1.04,1.00,1.03,1.01,1.04,
  1.00,1.03,0.99,1.04,1.01,1.03,0.99,1.02,1.00,1.04,
  1.01,1.03,0.99,1.02,1.00,1.03,0.98,1.02,1.00,1.03,
  0.99,1.02,1.00,1.04,0.99,1.02,1.00,1.03,0.98,1.02,
  1.00,1.03,0.99,1.02,1.00, 0,0];
const D_rate5_k = [1.08,1.10,1.06,1.09,1.07,1.11,1.06,1.09,1.08,1.07, 0,0,
  1.02,1.06,1.08,1.05,1.09,1.06,1.10,1.05,1.08,1.06,1.10,1.07,1.09,1.06,1.08, 0,0,
  1.03,1.07,1.05,1.09,1.06,1.10,1.07,1.05,1.09,1.06,1.08,1.05,1.09,1.07,1.08, 0,0,
  1.02,1.06,1.09,1.05,1.08,1.07];
const D_rate5_g = [1.03,1.05,1.02,1.04,1.03,1.05,1.01,1.04,1.03,1.02, 0,0,
  0.98,1.00,1.02,1.00,1.03,1.01,1.02,0.99,1.02,1.00,1.03,1.01,1.02,1.00,1.02, 0,0,
  0.98,1.01,1.00,1.02,1.00,1.03,1.01,0.99,1.02,1.00,1.02,1.00,1.03,1.01,1.02, 0,0,
  0.97,1.00,1.03,1.01,1.02,1.04];
const D_rate10_k = [0,
  0,0.98,1.02,1.02,1.01,1.02,1.01,0,
  0,0.97,1.01,1.02,1.02,1.01,1.01,0,
  0,0.98,1.02,1.01,1.02,1.02,1.01,0,
  0,0.98,1.02,1.02,1.01,1.02,1.02,0,
  0,0.97,1.01,1.02,1.02,1.01,1.01,0,
  0,0.98,1.02,1.02,1.01,1.02,1.01];
const D_rate10_g = [0,
  0,0.95,1.00,1.00,1.01,1.00,0.99,0,
  0,0.94,0.99,1.00,1.00,1.01,0.99,0,
  0,0.95,1.00,1.01,1.00,1.00,0.99,0,
  0,0.95,1.00,1.00,1.01,1.00,1.00,0,
  0,0.94,0.99,1.00,1.00,1.01,0.99,0,
  0,0.95,1.00,1.00,1.01,1.00,1.00];
const D_rate15_k = [0.10,0.65,1.02,1.05,1.00,0.62,0,
  0,0.64,1.01,1.05,0.99,0.61,0,
  0,0.66,1.03,1.06,1.00,0.62,0,
  0,0.65,1.02,1.05,1.00,0.61,0,
  0,0.64,1.02,1.05,0.99,0.62,0,
  0,0.65,1.03,1.06,1.00,0.61,0,
  0,0.64,1.01,1.05,1.00,0.62,0,
  0,0.65,1.02,1.05,0.99,0.61,0,
  0,0.66,1.03,1.06,1.00,0.62,0,
  0];
const D_rate15_g = [0.12,0.62,0.99,1.03,0.98,0.60,0,
  0,0.62,0.98,1.02,0.97,0.59,0,
  0,0.63,1.00,1.03,0.98,0.60,0,
  0,0.62,0.99,1.02,0.98,0.59,0,
  0,0.61,0.99,1.03,0.97,0.60,0,
  0,0.62,1.00,1.03,0.98,0.59,0,
  0,0.61,0.98,1.02,0.98,0.60,0,
  0,0.62,0.99,1.03,0.97,0.59,0,
  0,0.63,1.00,1.03,0.98,0.60,0,
  0];

const D_dec1_ku = [0.5,1,0.3,0.8,0.5,1,0.3,0.6,0.5,0.3, 0,0,
  5,8.6,10,12,13,15.4,15,14.5,13.7,12,
  11,10,8.6,7,6,5,4,3.4,2.5,2,
  1.5,1,0.7,0.5,0.3,0.5,0.2,0.4,0.3,0.5,
  0.3,0.5,0.2,0.4,0.6,0.3,0.5,0.2,0.4,0.3,
  0.5,0.3,0.6,0.4,0.7,0.5];
const D_dec1_kl = [-0.5,-1,-0.3,-0.8,-0.5,-1,-0.3,-0.6,-0.5,-0.3, 0,0,
  -1.7,-1.5,-1,-1.2,-0.8,-1,-0.7,-0.9,-0.6,-0.8,
  -1,-0.8,-1.2,-1,-1.5,-1.2,-1.7,-1.5,-2,-1.7,
  -2.5,-3,-3.5,-5,-4,-3,-2,-1.5,-1.2,-1,
  -1,-0.8,-1.2,-0.6,-0.9,-0.7,-1,-0.8,-0.6,-0.9,
  -0.7,-1,-0.6,-0.8,-0.5,-0.7];
const D_dec1_gu = [4,2,5,3,6,2.5,4.5,3,5,2, 0,0,
  1.7,3,1,2.5,0.5,3.5,1.5,4,2,3.5,
  2,4,3,5,3.5,4.5,2.5,5,4,5.5,
  4,6,4.5,5,3,5.5,4,7,5,3,
  2.5,2,3.5,2.5,3,2,3.5,2.5,2,3,
  2.5,3,2,6,2.5,2.5];
const D_dec1_gl = [-0.5,1,-1,0.5,-0.5,1.5,-1,0.5,0,-0.5, 0,0,
  -1,0.5,-1.5,1,-0.5,2,-1,0.5,-0.5,1.5,
  -1,0.5,2,-0.5,1,3,0,-1,1.5,0.5,
  -0.5,1,2.5,0,-1,1,0.5,-0.5,2,0,
  -1,0.5,1.5,-0.5,1,0,2,-1,0.5,1,
  -0.5,1,0,1.5,-1,0.5];
const D_dec2_ku = [1.7,2,1.5,2.2,1.8,2,1.5,1.8,1.5,1, 0,0,
  5,6.5,8,10,11,12,12.5,13,13.7,13.5,
  12.5,11.5,10.5,9.5,8.6,8,7.5,7.5,7,7,
  7,6.5,6,5.5,5,4.5,4,3.8,3.5,3.4,
  3,2.8,2.5,2.3,2,1.8,1.8,1.6,1.5,1.5,
  1.2,1,0.8,0.5,0.3, 0,0];
const D_dec2_kl = [-3.4,-2.8,-3.6,-3,-3.5,-2.8,-3.2,-3,-2.5,-1.5, 0,0,
  -7,-6,-5.5,-5,-5.5,-4.5,-5,-4,-4.5,-3.5,
  -4,-3.5,-4,-3,-3.5,-2.8,-3.2,-3,-3.5,-4,
  -3.5,-4,-4.5,-5,-5.5,-6.5,-7,-7,-5,-4,
  -3,-3.5,-4,-3,-3.5,-3,-4,-3.5,-3,-3.5,
  -3,-3.5,-3,-3.2,-2, 0,0];
const D_dec2_gu = [5,3.5,6,4,5.5,3,5,4.5,3.5,2, 0,0,
  1.7,2.5,3,4,5,4.5,5.5,5,4,3.5,
  3,2.5,2,3,1.5,2.5,2,1,2,1.5,
  1,2,1.5,2.5,1.5,2,1,1.5,2,2.5,
  2,3,2.5,3.5,3,4,3.5,5,4,5,
  4.5,5.5,5,4,2.5, 0,0];
const D_dec2_gl = [-1,-2,-0.5,-1.5,-1,-2.5,-0.5,-1.5,-1,-0.5, 0,0,
  -2,-3.4,-4,-5,-4.5,-5,-4,-4.5,-3.5,-4,
  -3,-3.5,-2.5,-3,-2,-3,-2.5,-3.5,-2,-3,
  -2.5,-3,-2,-2.5,-3,-2,-2.5,-3,-2,-2.5,
  -2,-2.5,-3,-2,-2.5,-1.5,-2.5,-2,-3,-2,
  -2.5,-2,-3,-2,-1.5, 0,0];
const D_dec5_ku = [12,11,10,10,9,9,8.5,8,7,4, 0,0,
  5,8,9,8,9.5,8.6,7,8,9,8,8.5,7,6,5,3, 0,0,
  4,7,9,10,8,9,8,7,10,9,8,10,9,7,3, 0,0,
  4,8,9,10,11,10];
const D_dec5_kl = [-3.4,-4,-3,-5,-4,-3.5,-4.5,-3,-2.5,-1.5, 0,0,
  -5,-4,-6,-5,-4,-5.5,-4,-5,-6,-4.5,-5,-4,-3.5,-3,-1.5, 0,0,
  -5,-6,-4.5,-5.5,-4,-5,-6,-4,-5,-5.5,-4.5,-3.5,-4,-3,-1.5, 0,0,
  -5,-4.5,-6,-5,-5.5,-6];
const D_dec5_gu = [5,4,6,4.5,5,3.5,5.5,4,3,1.5, 0,0,
  2,3,4,2.5,3.5,3,4.5,2,3,4,2.5,3.5,3,2,1, 0,0,
  2,3.5,2.5,4,3,2,3.5,4,2.5,3,4.5,3,2.5,2,1, 0,0,
  2,3,4,3,2.5,3.5];
const D_dec5_gl = [-3.4,-2.5,-4,-3,-3.5,-2,-3,-4,-2.5,-1.5, 0,0,
  -7,-12,-8,-6,-7.5,-5,-6.5,-8,-5.5,-7,-6,-8.5,-6,-4,-2, 0,0,
  -7,-11,-7.5,-6,-8,-5.5,-7,-6,-12,-7,-6,-8,-5.5,-4,-2, 0,0,
  -7,-10,-8,-6.5,-7.5,-12];
const D_dec10_ku = [0,
  0,4,5,5.5,5,5,3,0,
  0,4,5,5.5,5,5,3,0,
  0,4,5,5.5,5,5,3,0,
  0,4,5,5.5,5,5,3,0,
  0,4,5,5.5,5,5,3,0,
  0,4,5,5.5,5,5,5];
const D_dec10_kl = [0,
  0,-13.7,-8,-7,-6.5,-6,-3,0,
  0,-8,-7,-6.5,-6,-5.5,-3,0,
  0,-8,-7,-6.5,-6,-5.5,-3,0,
  0,-8,-7,-6.5,-6,-5.5,-3,0,
  0,-8,-7,-6.5,-6,-5.5,-3,0,
  0,-8,-7,-6.5,-6,-6,-6];
const D_dec10_gu = [0,
  0,3,4,4,3.5,3.5,2,0,
  0,3,4,4,3.5,3.5,2,0,
  0,3,4,4,3.5,3.5,2,0,
  0,3,4,4,3.5,3.5,2,0,
  0,3,4,4,3.5,3.5,2,0,
  0,3,4,4,3.5,3.5,3.5];
const D_dec10_gl = [0,
  0,-6,-10,-7,-6,-5,-2.5,0,
  0,-6,-10,-7,-6,-5,-2.5,0,
  0,-6,-10,-7,-6,-5,-2.5,0,
  0,-6,-10,-7,-6,-5,-2.5,0,
  0,-6,-10,-7,-6,-5,-2.5,0,
  0,-6,-10,-7,-6,-5.5,-5];

// ── Legends ─────────────────────────────────────────────────────────────────
const LEGEND_A = ['Normal: 93 (T:46,W:47)', 'MPTP: 152 (T:104,W:48)'];
const LEGEND_B = ['Normal: 30 (T:3,W:27)', 'MPTP: 45 (T:42,W:3)'];
const LEGEND_C = ['Normal: 156 (T:57,W:99)', 'MPTP: 229 (T:143,W:86)'];
const LEGEND_D = ['Normal: 45 (T:9,W:36)', 'MPTP: 44 (T:34,W:10)'];

// ── Styling / layout ────────────────────────────────────────────────────────
const FAMILY = 'Lato, "Liberation Sans", Arial, sans-serif';
Chart.defaults.font.family = FAMILY;
Chart.defaults.font.size = 12;
Chart.defaults.color = '#111';

const GREEN = '#00a651';
const BLACK = '#151515';
const RED = '#ee1c25';

const PW = 109;               // plot width
const ML = 34, MR = 26, MT = 14, MB = 44;

const stimMark = document.createElement('canvas');
stimMark.width = 7; stimMark.height = 10;
(function () {
    const c = stimMark.getContext('2d');
    c.fillStyle = RED;
    c.fillRect(0, 0, 7, 10);
})();

const framePlugin = {
    id: 'frame',
    beforeDatasetsDraw(chart, args, opts) {
        const { ctx, chartArea: a, scales: { x, y } } = chart;
        ctx.save();
        ctx.strokeStyle = '#111';
        ctx.lineWidth = 1.2;
        ctx.strokeRect(a.left, a.top, a.right - a.left, a.bottom - a.top);
        ctx.lineWidth = 1;
        ctx.beginPath();
        X_INNER_TICKS.forEach(v => {
            const px = Math.round(x.getPixelForValue(v)) + 0.5;
            ctx.moveTo(px, a.top); ctx.lineTo(px, a.top + 3);
            ctx.moveTo(px, a.bottom); ctx.lineTo(px, a.bottom - 3);
        });
        (opts.yInner || []).forEach(v => {
            const py = Math.round(y.getPixelForValue(v)) + 0.5;
            ctx.moveTo(a.left, py); ctx.lineTo(a.left + 3, py);
            ctx.moveTo(a.right, py); ctx.lineTo(a.right - 3, py);
        });
        ctx.stroke();
        ctx.restore();
    }
};

function addText(text, x, y, size, vertical) {
    const d = document.createElement('div');
    d.className = 'txt' + (vertical ? ' vert' : '');
    d.style.left = x + 'px';
    d.style.top = y + 'px';
    d.style.fontSize = size + 'px';
    d.textContent = text;
    document.body.appendChild(d);
}

function addLegend(box, texts) {
    const el = document.createElement('div');
    el.className = 'legend';
    el.style.left = box[0] + 'px'; el.style.top = box[1] + 'px';
    el.style.width = box[2] + 'px'; el.style.height = box[3] + 'px';
    [GREEN, BLACK].forEach((col, i) => {
        const row = document.createElement('div');
        row.style.top = (i === 0 ? 16 : 39) + 'px';
        row.innerHTML = `<span style="background:${col}"></span>${texts[i]}`;
        el.appendChild(row);
    });
    document.body.appendChild(el);
}

function makePanel(left, top, h, times, stim, series, kind, showY, showX) {
    const cv = document.createElement('canvas');
    cv.width = ML + PW + MR;
    cv.height = MT + h + MB;
    cv.style.left = (left - ML) + 'px';
    cv.style.top = (top - MT) + 'px';
    document.body.appendChild(cv);

    const isRate = kind === 'rate';
    const yTicks = isRate ? RATE_TICKS : DEC_TICKS;

    // first dataset is drawn on top: stimulus marks, then black, then green
    const datasets = [{
        data: stim.map(s => ({ x: s, y: 0 })),
        showLine: false, pointStyle: stimMark, pointRadius: 4, clip: false
    }];
    series.forEach(sr => datasets.push({
        data: times.map((t, i) => ({ x: t, y: sr.v[i] })),
        borderColor: sr.c, borderWidth: 1.3, pointRadius: 0, fill: false, tension: 0
    }));

    new Chart(cv, {
        type: 'line',
        data: { datasets },
        options: {
            responsive: false,
            animation: false,
            events: [],
            layout: { padding: { left: 0, right: MR, top: MT, bottom: 0 } },
            plugins: {
                legend: { display: false },
                tooltip: { enabled: false },
                frame: { yInner: isRate ? [1] : [0] }
            },
            scales: {
                x: {
                    type: 'linear', min: -100, max: 500,
                    afterFit: s => { s.height = MB; },
                    afterBuildTicks: s => { s.ticks = X_LABEL_TICKS.map(v => ({ value: v })); },
                    grid: { display: false, drawTicks: false },
                    border: { display: false },
                    ticks: { display: showX, padding: 4, maxRotation: 0, minRotation: 0, autoSkip: false, font: { size: 12 } },
                    title: { display: showX, text: 'Time (ms)', font: { size: 15.5 }, padding: { top: 0, bottom: 7 } }
                },
                y: {
                    type: 'linear', min: yTicks[0], max: yTicks[2],
                    afterFit: s => { s.width = ML; },
                    afterBuildTicks: s => { s.ticks = yTicks.map(v => ({ value: v })); },
                    grid: { display: false, drawTicks: false },
                    border: { display: false },
                    ticks: { display: showY, padding: 5, font: { size: 12 } }
                }
            }
        },
        plugins: [framePlugin]
    });
}

const TIMES = [T1, T2, T5, T10, T15];
const STIMS = [S1, S1, S5, S10, S15];

const SECTIONS = [
    { letter: 'A', name: 'GP-->GPe', letterY: 11, titleY: 24, nameY: 146,
      top: 34, topH: 99, bot: 170, botH: 97, xs: [86, 230, 374, 519, 663],
      legend: [639, 213, 158, 54], legendText: LEGEND_A,
      rate: [[A_rate1_k, A_rate1_g], [A_rate2_k, A_rate2_g], [A_rate5_k, A_rate5_g], [A_rate10_k, A_rate10_g], [A_rate15_k, A_rate15_g]],
      dec: [[A_dec1_ku, A_dec1_kl, A_dec1_gu, A_dec1_gl], [A_dec2_ku, A_dec2_kl, A_dec2_gu, A_dec2_gl],
            [A_dec5_ku, A_dec5_kl, A_dec5_gu, A_dec5_gl], [A_dec10_ku, A_dec10_kl, A_dec10_gu, A_dec10_gl]] },
    { letter: 'B', name: 'GP-->GPi', letterY: 341, titleY: 348, nameY: 481,
      top: 364, topH: 98, bot: 501, botH: 97, xs: [83, 227, 371, 515, 659],
      legend: [638, 544, 146, 54], legendText: LEGEND_B,
      rate: [[B_rate1_k, B_rate1_g], [B_rate2_k, B_rate2_g], [B_rate5_k, B_rate5_g], [B_rate10_k, B_rate10_g], [B_rate15_k, B_rate15_g]],
      dec: [[B_dec1_ku, B_dec1_kl, B_dec1_gu, B_dec1_gl], [B_dec2_ku, B_dec2_kl, B_dec2_gu, B_dec2_gl],
            [B_dec5_ku, B_dec5_kl, B_dec5_gu, B_dec5_gl], [B_dec10_ku, B_dec10_kl, B_dec10_gu, B_dec10_gl]] },
    { letter: 'C', name: 'MI-->GPe', letterY: 672, titleY: 681, nameY: 810,
      top: 695, topH: 97, bot: 827, botH: 97, xs: [86, 230, 374, 519, 663],
      legend: [639, 871, 158, 53], legendText: LEGEND_C,
      rate: [[C_rate1_k, C_rate1_g], [C_rate2_k, C_rate2_g], [C_rate5_k, C_rate5_g], [C_rate10_k, C_rate10_g], [C_rate15_k, C_rate15_g]],
      dec: [[C_dec1_ku, C_dec1_kl, C_dec1_gu, C_dec1_gl], [C_dec2_ku, C_dec2_kl, C_dec2_gu, C_dec2_gl],
            [C_dec5_ku, C_dec5_kl, C_dec5_gu, C_dec5_gl], [C_dec10_ku, C_dec10_kl, C_dec10_gu, C_dec10_gl]] },
    { letter: 'D', name: 'MI-->GPi', letterY: 992, titleY: 1002, nameY: 1129,
      top: 1013, topH: 99, bot: 1148, botH: 97, xs: [86, 230, 374, 519, 663],
      legend: [642, 1192, 147, 53], legendText: LEGEND_D,
      rate: [[D_rate1_k, D_rate1_g], [D_rate2_k, D_rate2_g], [D_rate5_k, D_rate5_g], [D_rate10_k, D_rate10_g], [D_rate15_k, D_rate15_g]],
      dec: [[D_dec1_ku, D_dec1_kl, D_dec1_gu, D_dec1_gl], [D_dec2_ku, D_dec2_kl, D_dec2_gu, D_dec2_gl],
            [D_dec5_ku, D_dec5_kl, D_dec5_gu, D_dec5_gl], [D_dec10_ku, D_dec10_kl, D_dec10_gu, D_dec10_gl]] }
];

SECTIONS.forEach(sec => {
    addText(sec.letter, 10, sec.letterY, 21);
    addText(sec.name, 12, sec.nameY, 21, true);
    addText('Normalized Rate', 44, sec.top + sec.topH / 2 + 4, 21, true);
    addText('%DecInc', 44, sec.bot + sec.botH / 2, 21, true);

    FREQS.forEach((f, i) => {
        addText(f, sec.xs[i] + PW / 2, sec.titleY, 19);
        const [k, g] = sec.rate[i];
        makePanel(sec.xs[i], sec.top, sec.topH, TIMES[i], STIMS[i],
            [{ v: k, c: BLACK }, { v: g, c: GREEN }], 'rate', i === 0, i === 4);
        if (i < 4) {
            const [ku, kl, gu, gl] = sec.dec[i];
            makePanel(sec.xs[i], sec.bot, sec.botH, TIMES[i], STIMS[i],
                [{ v: ku, c: BLACK }, { v: kl, c: BLACK }, { v: gu, c: GREEN }, { v: gl, c: GREEN }],
                'dec', i === 0, true);
        }
    });

    addLegend(sec.legend, sec.legendText);
});
</script>
</body>
</html>
